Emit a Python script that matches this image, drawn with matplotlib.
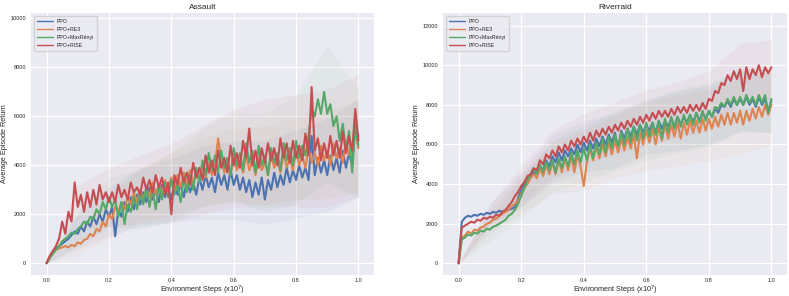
import numpy as np
import matplotlib
matplotlib.use("Agg")
import matplotlib.pyplot as plt
import seaborn as sns

# ---------------- data ----------------
games = ["Assault", "Riverraid"]
methods = ["PPO", "PPO+RE3", "PPO+MaxRényi", "PPO+RISE"]
colors = ["#4c72b0", "#dd8452", "#55a868", "#c44e52"]

steps = np.linspace(0.0, 1.0, 101)        # environment steps (x1e7)
band_steps = np.linspace(0.0, 1.0, 11)    # coarse grid for the shaded spread

assault_ppo = [0,
    250, 450, 600, 700, 800, 900, 1000, 1150, 1300, 1200,
    1500, 1300, 1700, 1500, 1900, 1600, 2000, 1700, 2200, 1900,
    2300, 1100, 2200, 1900, 2500, 2100, 2700, 2200, 2800, 2400,
    2900, 2500, 3100, 2600, 3000, 2500, 3200, 2700, 3100, 2600,
    3300, 2800, 3200, 2700, 3400, 2900, 3300, 2800, 3500, 3000,
    3600, 3100, 3500, 2900, 3700, 3200, 3600, 3000, 3800, 3200,
    3600, 3000, 3500, 2900, 3400, 2700, 3300, 2800, 3500, 2600,
    3400, 3000, 3700, 3100, 3600, 3200, 3900, 3300, 3800, 3400,
    4000, 3500, 3900, 3400, 5200, 3600, 4300, 3700, 4200, 3600,
    4400, 3800, 4300, 3700, 4600, 3900, 4500, 4000, 5600, 5200]
assault_re3 = [0,
    250, 400, 550, 600, 650, 700, 650, 750, 700, 850,
    800, 950, 1000, 1200, 1100, 1400, 1300, 1700, 1500, 2000,
    1800, 2300, 2100, 2500, 2200, 2700, 2400, 2900, 2500, 3000,
    2600, 3100, 2700, 3300, 2800, 3200, 2900, 3400, 3000, 3500,
    3000, 3600, 3100, 3700, 3200, 3800, 3300, 3700, 3400, 4000,
    3500, 4100, 3600, 4000, 5100, 4200, 3700, 4100, 3600, 4300,
    3800, 4200, 3700, 4400, 3800, 4200, 3600, 4300, 3800, 4100,
    3600, 4400, 3900, 4200, 3700, 4500, 3900, 4300, 3800, 4600,
    4000, 4400, 3900, 4700, 4100, 4500, 4000, 4800, 4200, 4600,
    4000, 4900, 4300, 4700, 4100, 5000, 4400, 4800, 5300, 4700]
assault_maxrenyi = [0,
    200, 400, 550, 700, 900, 1000, 1100, 1250, 1200, 1400,
    1500, 1700, 1600, 1900, 1800, 2200, 2000, 2500, 2200, 2700,
    2300, 2600, 1900, 2500, 1600, 2400, 2100, 2700, 2200, 2900,
    2400, 3100, 2300, 3000, 2200, 3200, 2600, 3300, 2700, 3400,
    2800, 3200, 2500, 3500, 2900, 3600, 3000, 3900, 3300, 4200,
    3600, 4500, 3800, 4400, 3700, 4600, 3900, 4300, 3600, 4700,
    4000, 4500, 3800, 4900, 4100, 4600, 3700, 4800, 4000, 4400,
    3600, 4700, 4100, 4500, 3800, 4900, 4200, 4700, 4000, 5000,
    4300, 4800, 4400, 5200, 6300, 6000, 6700, 6100, 7000, 6100,
    6500, 5600, 6000, 5000, 5700, 4600, 5400, 3700, 5700, 4800]
assault_rise = [0,
    300, 500, 700, 1000, 1700, 1200, 2100, 1700, 3300, 2300,
    2800, 2100, 2900, 2300, 3000, 2400, 3200, 2600, 2900, 2500,
    2900, 2500, 3200, 2700, 3000, 2600, 3300, 2900, 3100, 2800,
    3500, 3000, 3400, 2900, 3600, 3100, 3500, 2800, 3300, 2000,
    3600, 3200, 3900, 3300, 3700, 3200, 4100, 3500, 3900, 3400,
    4400, 3700, 4200, 3600, 4600, 3900, 4300, 3700, 4800, 4000,
    4500, 3900, 5000, 4300, 5500, 4000, 4600, 3900, 4700, 4100,
    4900, 4200, 4700, 4000, 5100, 4300, 4900, 4100, 5000, 4300,
    4800, 4200, 5300, 4400, 7200, 4600, 5100, 4200, 4900, 4300,
    5200, 4400, 5000, 4300, 5400, 4500, 5200, 4600, 6300, 5000]

riverraid_ppo = [0,
    2100, 2300, 2400, 2350, 2450, 2400, 2500, 2450, 2550, 2500,
    2600, 2550, 2650, 2600, 2650, 2700, 2750, 2850, 3300, 3700,
    4000, 4300, 4400, 4600, 4500, 4900, 4700, 5200, 4900, 5400,
    5100, 5600, 5200, 5700, 5400, 5800, 5500, 6000, 5600, 6100,
    5700, 6200, 5800, 6300, 5900, 6400, 6000, 6500, 6100, 6600,
    5700, 6700, 6300, 6800, 6400, 6900, 6500, 7000, 6600, 7000,
    6700, 7100, 6600, 7200, 6800, 7200, 6900, 7300, 6900, 7400,
    7000, 7400, 7100, 7500, 7100, 7600, 7200, 7600, 7300, 7700,
    7400, 7800, 7600, 8000, 7900, 8200, 7900, 8300, 8000, 8300,
    8000, 8400, 8000, 8300, 7900, 8400, 8000, 8300, 7700, 8200]
riverraid_re3 = [0,
    1300, 1400, 1600, 1500, 1700, 1650, 1800, 1850, 2000, 2050,
    2200, 2250, 2400, 2500, 2600, 2700, 2900, 3000, 3200, 3500,
    3800, 4000, 4300, 4500, 4300, 4800, 4400, 5000, 4500, 5100,
    4500, 5200, 4600, 5300, 4700, 5400, 4600, 5500, 4900, 3900,
    5100, 5800, 5200, 5900, 5300, 6000, 5400, 6100, 5500, 6200,
    5600, 6300, 5700, 6400, 5800, 6500, 5300, 6600, 6000, 6700,
    6100, 6800, 6000, 6900, 6200, 7000, 6300, 7000, 6400, 7100,
    6300, 7100, 6500, 7200, 6600, 7200, 6600, 7300, 6700, 7300,
    6800, 7400, 6900, 7500, 7000, 7600, 7000, 7600, 7100, 7700,
    7000, 7700, 7200, 7800, 7300, 7900, 7400, 8000, 7500, 8000]
riverraid_maxrenyi = [0,
    1200, 1300, 1450, 1400, 1550, 1500, 1650, 1600, 1750, 1700,
    1850, 1900, 2000, 2100, 2200, 2400, 2500, 2700, 3000, 3400,
    3800, 4200, 4500, 4800, 4500, 5000, 4600, 5100, 4700, 5200,
    4600, 5300, 4800, 5400, 4900, 5600, 5000, 5700, 5100, 5800,
    5200, 6000, 5300, 6100, 5500, 6300, 5600, 6400, 5800, 6500,
    5900, 6600, 6000, 6800, 6100, 6900, 6200, 7000, 6300, 7100,
    6400, 7100, 6500, 7200, 6300, 7300, 6600, 7400, 6800, 7400,
    6900, 7500, 7000, 7500, 7000, 7600, 7100, 7700, 7200, 7700,
    7400, 7900, 7800, 8100, 7900, 8300, 8000, 8400, 8000, 8400,
    8000, 8500, 8100, 8400, 8000, 8500, 8100, 8500, 7600, 8300]
riverraid_rise = [0,
    1800, 1900, 2000, 2100, 2050, 2200, 2150, 2300, 2250, 2350,
    2300, 2450, 2400, 2600, 2700, 2900, 3100, 3400, 3600, 3900,
    4100, 4400, 4500, 4800, 4700, 5200, 5000, 5500, 5300, 5700,
    5400, 5900, 5600, 6000, 5700, 6200, 5900, 6300, 6000, 6400,
    6100, 6600, 6200, 6700, 6400, 6800, 6500, 6900, 6600, 7000,
    6700, 7100, 6800, 7200, 6900, 7300, 7000, 7400, 7100, 7500,
    7200, 7600, 7300, 7700, 7400, 7700, 7400, 7800, 7500, 7900,
    7600, 7900, 7600, 8000, 7700, 8000, 7700, 8100, 7800, 8300,
    8200, 8700, 8600, 9100, 9000, 9500, 9200, 9700, 9300, 9800,
    8700, 9900, 9300, 9800, 9500, 10000, 9400, 9900, 9600, 9900]

# smooth trend + half-width of the shaded spread (coarse grid)
assault_trend = [
    [0, 1300, 2100, 2700, 2950, 3300, 3400, 3300, 3650, 4000, 4700],
    [0, 850, 1900, 2800, 3250, 3750, 4000, 4000, 4300, 4450, 4800],
    [0, 1400, 2500, 2600, 3100, 3900, 4350, 4100, 4650, 6100, 4900],
    [0, 2300, 2700, 3000, 3300, 3800, 4300, 4500, 4600, 4700, 5200]]
assault_spread = [
    [0, 700, 1000, 1200, 1300, 1500, 1600, 1700, 1800, 1900, 2000],
    [0, 500, 900, 1100, 1300, 1400, 1500, 1600, 1700, 1800, 1900],
    [0, 700, 1000, 1200, 1400, 1600, 1800, 2000, 2200, 2800, 2200],
    [0, 900, 1200, 1400, 1600, 1800, 2000, 2200, 2300, 2400, 2500]]
riverraid_trend = [
    [0, 2500, 3700, 5300, 5900, 6200, 6900, 7200, 7500, 8200, 8100],
    [0, 2050, 3500, 4800, 5200, 5900, 6400, 6700, 7000, 7400, 7900],
    [0, 1700, 3300, 4900, 5500, 6200, 6700, 7200, 7500, 8200, 8200],
    [0, 2350, 3900, 5500, 6250, 6850, 7350, 7750, 8200, 9600, 9800]]
riverraid_spread = [
    [0, 500, 900, 1200, 1300, 1400, 1400, 1500, 1500, 1500, 1500],
    [0, 600, 1000, 1300, 1500, 1600, 1700, 1800, 1800, 1900, 1900],
    [0, 600, 1000, 1300, 1400, 1500, 1500, 1600, 1600, 1600, 1600],
    [0, 600, 1000, 1200, 1300, 1300, 1400, 1400, 1500, 1500, 1500]]

series = {
    "Assault": [assault_ppo, assault_re3, assault_maxrenyi, assault_rise],
    "Riverraid": [riverraid_ppo, riverraid_re3, riverraid_maxrenyi, riverraid_rise],
}
bands = {
    "Assault": (assault_trend, assault_spread),
    "Riverraid": (riverraid_trend, riverraid_spread),
}
ylims = {"Assault": (-480, 10220), "Riverraid": (-590, 12640)}
yticks = {"Assault": [0, 2000, 4000, 6000, 8000, 10000],
          "Riverraid": [0, 2000, 4000, 6000, 8000, 10000, 12000]}
xticks = [0.0, 0.2, 0.4, 0.6, 0.8, 1.0]

# ---------------- plot ----------------
sns.set_theme(style="darkgrid")
plt.rcParams["font.family"] = ["Liberation Sans", "DejaVu Sans"]

fig = plt.figure(figsize=(7.89, 2.96), dpi=100)
ax_rects = [[31 / 789, 21 / 296, 343 / 789, 262 / 296],
            [443 / 789, 21 / 296, 344 / 789, 262 / 296]]

for rect, game in zip(ax_rects, games):
    ax = fig.add_axes(rect)
    trend, spread = bands[game]
    for i, (name, col) in enumerate(zip(methods, colors)):
        t = np.array(trend[i], dtype=float)
        s = np.array(spread[i], dtype=float)
        ax.fill_between(band_steps, t - s, t + s, color=col, alpha=0.06, lw=0)
    for i, (name, col) in enumerate(zip(methods, colors)):
        ax.plot(steps, series[game][i], color=col, lw=1.5, label=name)
    ax.set_xlim(-0.05, 1.05)
    ax.set_ylim(*ylims[game])
    ax.set_xticks(xticks)
    ax.set_yticks(yticks[game])
    ax.tick_params(axis="x", labelsize=4.0, length=0, pad=2.5)
    ax.tick_params(axis="y", labelsize=4.0, length=0, pad=3.6)
    ax.set_title(game, fontsize=6, pad=3)
    ax.set_xlabel("Environment Steps (x10$^7$)", fontsize=5.2, labelpad=0.3)
    ax.set_ylabel("Average Episode Return", fontsize=5.2, labelpad=1.5)
    for sp in ax.spines.values():
        sp.set_visible(False)
    ax.grid(color="white", lw=0.9)
    leg = ax.legend(loc="upper left", fontsize=3.8, frameon=True,
                    handlelength=3.0, borderpad=0.6, labelspacing=0.55,
                    handletextpad=0.8)
    for lh in leg.get_lines():
        lh.set_linewidth(1.0)

fig.savefig("out.png", dpi=100)
